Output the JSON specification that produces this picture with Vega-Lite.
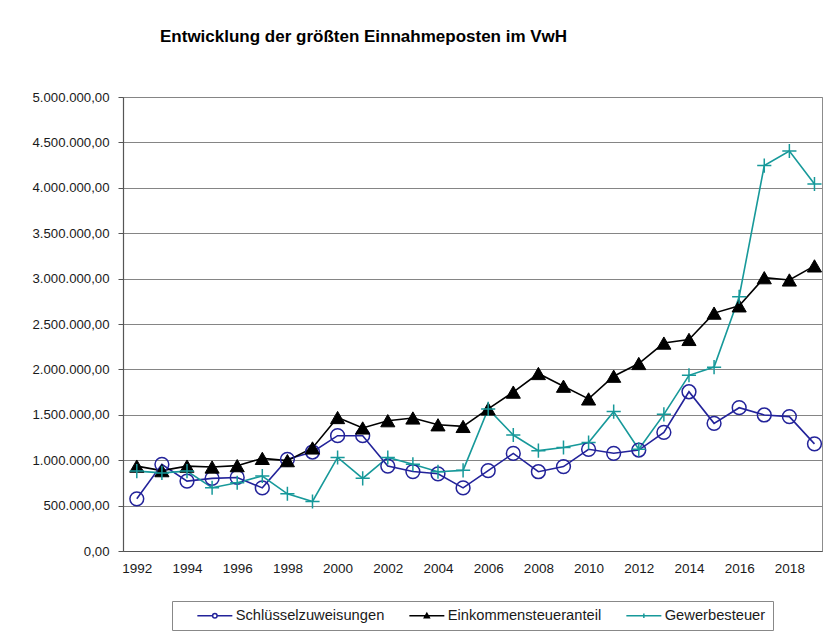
{
  "$schema": "https://vega.github.io/schema/vega-lite/v6.json",
  "width": 699,
  "height": 454,
  "autosize": {"type": "none"},
  "padding": {"left": 123, "top": 97, "right": 10, "bottom": 82},
  "background": "white",
  "title": {
    "text": "Entwicklung der größten Einnahmeposten im VwH",
    "fontSize": 17,
    "fontWeight": "bold",
    "font": "Liberation Sans",
    "color": "#000000",
    "anchor": "start",
    "frame": "group",
    "dx": 37,
    "baseline": "alphabetic",
    "offset": 31
  },
  "config": {
    "font": "Liberation Sans",
    "view": {"stroke": "#8c8c8c", "strokeWidth": 1},
    "locale": {"number": {"decimal": ",", "thousands": ".", "grouping": [3], "currency": ["", " €"]}}
  },
  "data": {
    "values": [
      {"Jahr": 1992, "Reihe": "Schlüsselzuweisungen", "Wert": 575000},
      {"Jahr": 1993, "Reihe": "Schlüsselzuweisungen", "Wert": 955000},
      {"Jahr": 1994, "Reihe": "Schlüsselzuweisungen", "Wert": 770000},
      {"Jahr": 1995, "Reihe": "Schlüsselzuweisungen", "Wert": 800000},
      {"Jahr": 1996, "Reihe": "Schlüsselzuweisungen", "Wert": 810000},
      {"Jahr": 1997, "Reihe": "Schlüsselzuweisungen", "Wert": 695000},
      {"Jahr": 1998, "Reihe": "Schlüsselzuweisungen", "Wert": 1010000},
      {"Jahr": 1999, "Reihe": "Schlüsselzuweisungen", "Wert": 1090000},
      {"Jahr": 2000, "Reihe": "Schlüsselzuweisungen", "Wert": 1270000},
      {"Jahr": 2001, "Reihe": "Schlüsselzuweisungen", "Wert": 1270000},
      {"Jahr": 2002, "Reihe": "Schlüsselzuweisungen", "Wert": 935000},
      {"Jahr": 2003, "Reihe": "Schlüsselzuweisungen", "Wert": 875000},
      {"Jahr": 2004, "Reihe": "Schlüsselzuweisungen", "Wert": 850000},
      {"Jahr": 2005, "Reihe": "Schlüsselzuweisungen", "Wert": 695000},
      {"Jahr": 2006, "Reihe": "Schlüsselzuweisungen", "Wert": 885000},
      {"Jahr": 2007, "Reihe": "Schlüsselzuweisungen", "Wert": 1075000},
      {"Jahr": 2008, "Reihe": "Schlüsselzuweisungen", "Wert": 873000},
      {"Jahr": 2009, "Reihe": "Schlüsselzuweisungen", "Wert": 930000},
      {"Jahr": 2010, "Reihe": "Schlüsselzuweisungen", "Wert": 1120000},
      {"Jahr": 2011, "Reihe": "Schlüsselzuweisungen", "Wert": 1076000},
      {"Jahr": 2012, "Reihe": "Schlüsselzuweisungen", "Wert": 1112000},
      {"Jahr": 2013, "Reihe": "Schlüsselzuweisungen", "Wert": 1307000},
      {"Jahr": 2014, "Reihe": "Schlüsselzuweisungen", "Wert": 1754000},
      {"Jahr": 2015, "Reihe": "Schlüsselzuweisungen", "Wert": 1406000},
      {"Jahr": 2016, "Reihe": "Schlüsselzuweisungen", "Wert": 1578000},
      {"Jahr": 2017, "Reihe": "Schlüsselzuweisungen", "Wert": 1498000},
      {"Jahr": 2018, "Reihe": "Schlüsselzuweisungen", "Wert": 1480000},
      {"Jahr": 2019, "Reihe": "Schlüsselzuweisungen", "Wert": 1180000},
      {"Jahr": 1992, "Reihe": "Einkommensteueranteil", "Wert": 935000},
      {"Jahr": 1993, "Reihe": "Einkommensteueranteil", "Wert": 885000},
      {"Jahr": 1994, "Reihe": "Einkommensteueranteil", "Wert": 935000},
      {"Jahr": 1995, "Reihe": "Einkommensteueranteil", "Wert": 925000},
      {"Jahr": 1996, "Reihe": "Einkommensteueranteil", "Wert": 940000},
      {"Jahr": 1997, "Reihe": "Einkommensteueranteil", "Wert": 1020000},
      {"Jahr": 1998, "Reihe": "Einkommensteueranteil", "Wert": 995000},
      {"Jahr": 1999, "Reihe": "Einkommensteueranteil", "Wert": 1135000},
      {"Jahr": 2000, "Reihe": "Einkommensteueranteil", "Wert": 1470000},
      {"Jahr": 2001, "Reihe": "Einkommensteueranteil", "Wert": 1355000},
      {"Jahr": 2002, "Reihe": "Einkommensteueranteil", "Wert": 1435000},
      {"Jahr": 2003, "Reihe": "Einkommensteueranteil", "Wert": 1465000},
      {"Jahr": 2004, "Reihe": "Einkommensteueranteil", "Wert": 1390000},
      {"Jahr": 2005, "Reihe": "Einkommensteueranteil", "Wert": 1372000},
      {"Jahr": 2006, "Reihe": "Einkommensteueranteil", "Wert": 1565000},
      {"Jahr": 2007, "Reihe": "Einkommensteueranteil", "Wert": 1750000},
      {"Jahr": 2008, "Reihe": "Einkommensteueranteil", "Wert": 1955000},
      {"Jahr": 2009, "Reihe": "Einkommensteueranteil", "Wert": 1815000},
      {"Jahr": 2010, "Reihe": "Einkommensteueranteil", "Wert": 1675000},
      {"Jahr": 2011, "Reihe": "Einkommensteueranteil", "Wert": 1925000},
      {"Jahr": 2012, "Reihe": "Einkommensteueranteil", "Wert": 2065000},
      {"Jahr": 2013, "Reihe": "Einkommensteueranteil", "Wert": 2290000},
      {"Jahr": 2014, "Reihe": "Einkommensteueranteil", "Wert": 2330000},
      {"Jahr": 2015, "Reihe": "Einkommensteueranteil", "Wert": 2620000},
      {"Jahr": 2016, "Reihe": "Einkommensteueranteil", "Wert": 2700000},
      {"Jahr": 2017, "Reihe": "Einkommensteueranteil", "Wert": 3010000},
      {"Jahr": 2018, "Reihe": "Einkommensteueranteil", "Wert": 2985000},
      {"Jahr": 2019, "Reihe": "Einkommensteueranteil", "Wert": 3140000},
      {"Jahr": 1992, "Reihe": "Gewerbesteuer", "Wert": 880000},
      {"Jahr": 1993, "Reihe": "Gewerbesteuer", "Wert": 860000},
      {"Jahr": 1994, "Reihe": "Gewerbesteuer", "Wert": 880000},
      {"Jahr": 1995, "Reihe": "Gewerbesteuer", "Wert": 697000},
      {"Jahr": 1996, "Reihe": "Gewerbesteuer", "Wert": 752000},
      {"Jahr": 1997, "Reihe": "Gewerbesteuer", "Wert": 826000},
      {"Jahr": 1998, "Reihe": "Gewerbesteuer", "Wert": 630000},
      {"Jahr": 1999, "Reihe": "Gewerbesteuer", "Wert": 545000},
      {"Jahr": 2000, "Reihe": "Gewerbesteuer", "Wert": 1030000},
      {"Jahr": 2001, "Reihe": "Gewerbesteuer", "Wert": 800000},
      {"Jahr": 2002, "Reihe": "Gewerbesteuer", "Wert": 1030000},
      {"Jahr": 2003, "Reihe": "Gewerbesteuer", "Wert": 955000},
      {"Jahr": 2004, "Reihe": "Gewerbesteuer", "Wert": 873000},
      {"Jahr": 2005, "Reihe": "Gewerbesteuer", "Wert": 888000},
      {"Jahr": 2006, "Reihe": "Gewerbesteuer", "Wert": 1565000},
      {"Jahr": 2007, "Reihe": "Gewerbesteuer", "Wert": 1277000},
      {"Jahr": 2008, "Reihe": "Gewerbesteuer", "Wert": 1105000},
      {"Jahr": 2009, "Reihe": "Gewerbesteuer", "Wert": 1140000},
      {"Jahr": 2010, "Reihe": "Gewerbesteuer", "Wert": 1195000},
      {"Jahr": 2011, "Reihe": "Gewerbesteuer", "Wert": 1535000},
      {"Jahr": 2012, "Reihe": "Gewerbesteuer", "Wert": 1120000},
      {"Jahr": 2013, "Reihe": "Gewerbesteuer", "Wert": 1505000},
      {"Jahr": 2014, "Reihe": "Gewerbesteuer", "Wert": 1935000},
      {"Jahr": 2015, "Reihe": "Gewerbesteuer", "Wert": 2025000},
      {"Jahr": 2016, "Reihe": "Gewerbesteuer", "Wert": 2800000},
      {"Jahr": 2017, "Reihe": "Gewerbesteuer", "Wert": 4245000},
      {"Jahr": 2018, "Reihe": "Gewerbesteuer", "Wert": 4405000},
      {"Jahr": 2019, "Reihe": "Gewerbesteuer", "Wert": 4042000}
    ]
  },
  "encoding": {
    "x": {
      "field": "Jahr",
      "type": "quantitative",
      "scale": {"domain": [1991.45, 2019.3], "nice": false, "zero": false},
      "axis": {
        "title": null,
        "values": [1992, 1994, 1996, 1998, 2000, 2002, 2004, 2006, 2008, 2010, 2012, 2014, 2016, 2018],
        "format": "d",
        "grid": false,
        "ticks": false,
        "labelPadding": 10,
        "labelFontSize": 13.5,
        "labelColor": "#1a1a1a",
        "domainColor": "#555555",
        "domainWidth": 1.2
      }
    },
    "y": {
      "field": "Wert",
      "type": "quantitative",
      "scale": {"domain": [0, 5000000], "nice": false},
      "axis": {
        "title": null,
        "values": [0, 500000, 1000000, 1500000, 2000000, 2500000, 3000000, 3500000, 4000000, 4500000, 5000000],
        "format": ",.2f",
        "grid": true,
        "gridColor": "#858585",
        "gridWidth": 1.2,
        "gridOpacity": 1,
        "tickSize": 5,
        "tickColor": "#555555",
        "labelPadding": 9,
        "labelFontSize": 13.2,
        "labelColor": "#1a1a1a",
        "domainColor": "#555555",
        "domainWidth": 1.2
      }
    }
  },
  "layer": [
    {
      "mark": {"type": "line", "strokeWidth": 1.6},
      "encoding": {
        "color": {
          "field": "Reihe",
          "type": "nominal",
          "sort": ["Schlüsselzuweisungen", "Einkommensteueranteil", "Gewerbesteuer"],
          "scale": {"domain": ["Schlüsselzuweisungen", "Einkommensteueranteil", "Gewerbesteuer"], "range": ["#23239a", "#000000", "#17999a"]},
          "legend": {
            "title": null,
            "orient": "none",
            "direction": "horizontal",
            "legendX": 49,
            "legendY": 504,
            "padding": 7,
            "strokeColor": "#888888",
            "fillColor": "white",
            "columnPadding": 6,
            "labelFontSize": 14.7,
            "labelColor": "#1a1a1a",
            "labelOffset": 42,
            "labelLimit": 300,
            "symbolSize": 100,
            "symbolStrokeWidth": 1.5,
            "encode": {
              "symbols": {
                "update": {
                  "shape": {"signal": "datum.value === 'Schlüsselzuweisungen' ? 'M2.2,0H5.25M6.15,0H9.2M5.25,0A0.45,0.45 0 1,1 6.15,0A0.45,0.45 0 1,1 5.25,0' : (datum.value === 'Einkommensteueranteil' ? 'M2.2,0H9.2M5.7,-0.5L6.2,0.4H5.2Z' : 'M2.2,0H9.2M5.7,-0.45V0.45')"},
                  "fill": {"signal": "datum.value === 'Einkommensteueranteil' ? '#000000' : 'transparent'"},
                  "stroke": {"signal": "datum.value === 'Schlüsselzuweisungen' ? '#23239a' : (datum.value === 'Einkommensteueranteil' ? '#000000' : '#17999a')"},
                  "strokeWidth": {"value": 1.5},
                  "opacity": {"value": 1}
                }
              }
            }
          }
        }
      }
    },
    {
      "transform": [{"filter": "datum.Reihe === 'Schlüsselzuweisungen'"}],
      "mark": {"type": "point", "shape": "circle", "size": 190, "stroke": "#23239a", "fill": "transparent", "filled": false, "strokeWidth": 1.5, "opacity": 1}
    },
    {
      "transform": [{"filter": "datum.Reihe === 'Einkommensteueranteil'"}],
      "mark": {"type": "point", "shape": "triangle-up", "size": 200, "stroke": "#000000", "fill": "#000000", "filled": true, "strokeWidth": 1, "opacity": 1}
    },
    {
      "transform": [{"filter": "datum.Reihe === 'Gewerbesteuer'"}],
      "mark": {"type": "point", "shape": "M-1,0H1M0,-1V1", "size": 200, "stroke": "#17999a", "fill": "transparent", "filled": false, "strokeWidth": 1.5, "opacity": 1}
    }
  ]
}
